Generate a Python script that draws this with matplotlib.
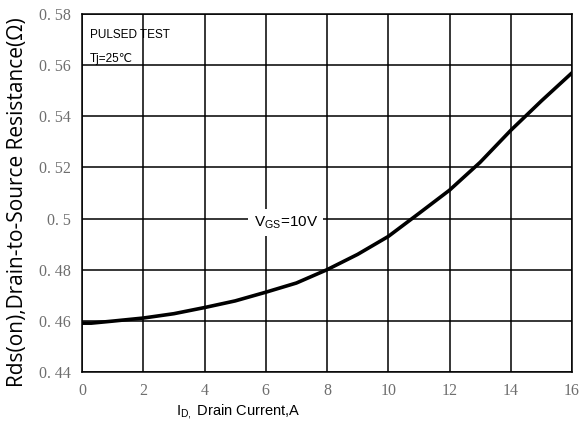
import numpy as np
import matplotlib
matplotlib.use('Agg')
from matplotlib import pyplot as plt

# drain current (A) vs on-resistance (ohm)
current = [0, 0.3, 1, 2, 3, 4, 5, 6, 7, 8, 9, 10, 11, 12, 13, 14, 15, 16]
rds_on = [0.4591, 0.4591, 0.4599, 0.4611, 0.4628, 0.4652, 0.4678, 0.4712, 0.4748,
          0.4800, 0.4860, 0.4930, 0.5020, 0.5111, 0.5220, 0.5345, 0.5460, 0.5570]

x_ticks = [0, 2, 4, 6, 8, 10, 12, 14, 16]
y_ticks = [0.44, 0.46, 0.48, 0.5, 0.52, 0.54, 0.56, 0.58]
y_labels = ['0. 44', '0. 46', '0. 48', '0. 5', '0. 52', '0. 54', '0. 56', '0. 58']

fig = plt.figure(figsize=(5.81, 4.34), dpi=100)
ax = fig.add_axes([82 / 581, 1 - 372 / 434, 490 / 581, 358 / 434])

ax.plot(current, rds_on, 'k-', lw=2.6, zorder=3)

ax.set_xlim(0, 16)
ax.set_ylim(0.44, 0.58)
ax.set_xticks(x_ticks)
ax.set_yticks(y_ticks)
ax.set_xticklabels([str(t) for t in x_ticks], family='Liberation Serif', fontsize=11.5, color='#6e6e6e')
ax.set_yticklabels(y_labels, family='Liberation Serif', fontsize=11.5, color='#6e6e6e')
ax.tick_params(length=0, pad=8)
ax.grid(True, color='black', lw=1.1)
for s in ax.spines.values():
    s.set_linewidth(1.1)

ax.set_xlabel('I$_\\mathregular{D,}$ Drain Current,A', family='Liberation Sans', fontsize=10.5, labelpad=6)
ax.xaxis.set_label_coords(0.318, -0.085)
ax.set_ylabel('Rds(on),Drain-to-Source Resistance(Ω)', family='Open Sans', fontsize=15)
ax.yaxis.set_label_coords(-0.11, 0.475)

ax.text(0.25, 0.5718, 'PULSED TEST', family=['Liberation Sans', 'DejaVu Sans'], fontsize=8.5, va='center')
ax.text(0.25, 0.5625, 'Tj=25℃', family=['Liberation Sans', 'DejaVu Sans'], fontsize=8.5, va='center')
ax.text(6.65, 0.4985, 'V$_\\mathregular{GS}$=10V', family='Liberation Sans', fontsize=11,
        ha='center', va='center', zorder=4,
        bbox=dict(facecolor='white', edgecolor='none', pad=4))

fig.savefig('out.png', dpi=100)
